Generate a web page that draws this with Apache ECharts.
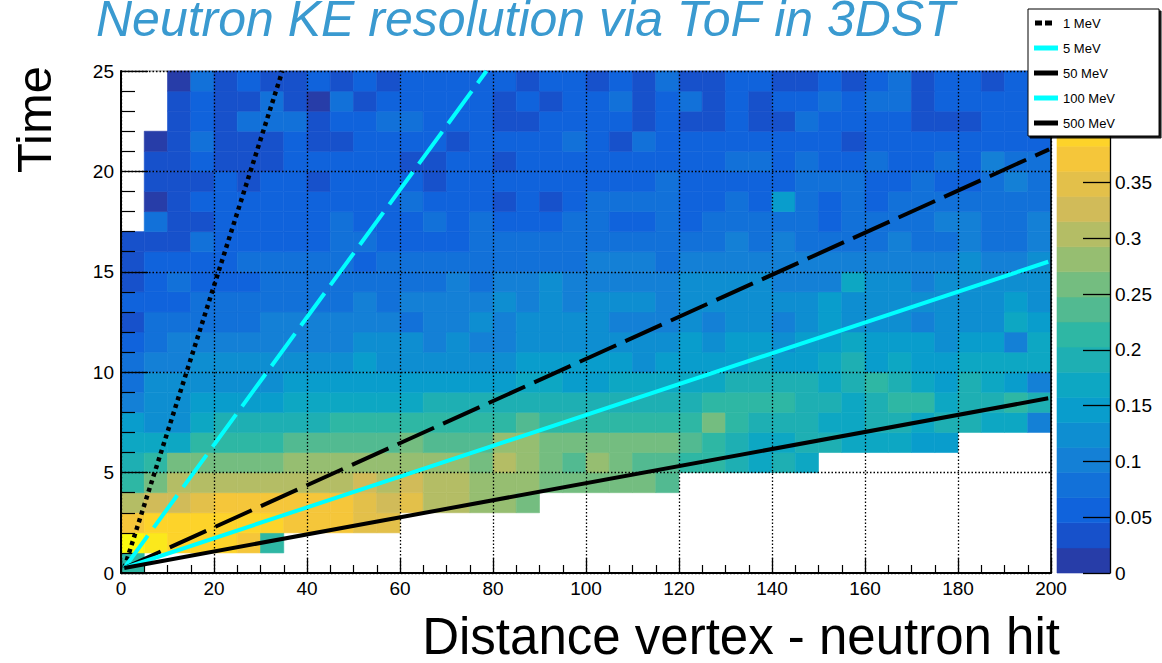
<!DOCTYPE html>
<html>
<head>
<meta charset="utf-8">
<title>Neutron KE resolution via ToF in 3DST</title>
<script src="https://cdn.jsdelivr.net/npm/echarts@6/dist/echarts.min.js"></script>
<style>
  html, body { margin: 0; padding: 0; background: #fff; }
  #chart { width: 1162px; height: 663px; }
</style>
</head>
<body>
<div id="chart"></div>
<script>
// ---- Histogram contents: fraction of hits per (distance, time) bin ----
// One array per 1-unit time bin (time bin 0 = [0,1)), 40 distance bins of width 5 each.
// 0 means an empty bin (left white).
const timeBin0 = [0.21,0,0,0,0,0,0,0,0,0, 0,0,0,0,0,0,0,0,0,0, 0,0,0,0,0,0,0,0,0,0, 0,0,0,0,0,0,0,0,0,0];
const timeBin1 = [0.44,0.42,0.39,0.39,0.39,0.37,0.21,0,0,0, 0,0,0,0,0,0,0,0,0,0, 0,0,0,0,0,0,0,0,0,0, 0,0,0,0,0,0,0,0,0,0];
const timeBin2 = [0.37,0.39,0.39,0.39,0.39,0.39,0.39,0.37,0.37,0.37, 0.35,0.35,0,0,0,0,0,0,0,0, 0,0,0,0,0,0,0,0,0,0, 0,0,0,0,0,0,0,0,0,0];
const timeBin3 = [0.30,0.33,0.33,0.35,0.37,0.37,0.37,0.37,0.37,0.37, 0.35,0.33,0.35,0.30,0.30,0.28,0.28,0.26,0,0, 0,0,0,0,0,0,0,0,0,0, 0,0,0,0,0,0,0,0,0,0];
const timeBin4 = [0.21,0.26,0.30,0.30,0.30,0.30,0.30,0.30,0.30,0.30, 0.33,0.30,0.33,0.30,0.30,0.28,0.28,0.28,0.26,0.26, 0.26,0.26,0.26,0.24,0,0,0,0,0,0, 0,0,0,0,0,0,0,0,0,0];
const timeBin5 = [0.19,0.21,0.26,0.26,0.26,0.26,0.26,0.28,0.28,0.28, 0.28,0.28,0.28,0.28,0.28,0.26,0.30,0.28,0.26,0.24, 0.28,0.26,0.24,0.24,0.21,0.21,0.19,0.17,0.19,0.17, 0,0,0,0,0,0,0,0,0,0];
const timeBin6 = [0.17,0.17,0.17,0.21,0.21,0.21,0.21,0.24,0.24,0.24, 0.24,0.24,0.26,0.24,0.24,0.24,0.28,0.28,0.26,0.26, 0.26,0.26,0.26,0.26,0.24,0.21,0.19,0.17,0.17,0.19, 0.19,0.17,0.17,0.17,0.15,0.15,0,0,0,0];
const timeBin7 = [0.15,0.12,0.12,0.17,0.19,0.19,0.19,0.19,0.19,0.21, 0.21,0.21,0.21,0.21,0.21,0.21,0.21,0.24,0.21,0.21, 0.21,0.21,0.21,0.21,0.21,0.26,0.21,0.19,0.19,0.19, 0.17,0.17,0.19,0.19,0.17,0.19,0.19,0.17,0.17,0.10];
const timeBin8 = [0.10,0.12,0.12,0.15,0.15,0.15,0.15,0.17,0.17,0.17, 0.17,0.17,0.17,0.19,0.19,0.19,0.19,0.19,0.19,0.19, 0.19,0.19,0.19,0.19,0.19,0.21,0.21,0.21,0.21,0.19, 0.19,0.17,0.19,0.21,0.21,0.17,0.19,0.19,0.21,0.19];
const timeBin9 = [0.08,0.12,0.12,0.12,0.12,0.12,0.12,0.15,0.15,0.15, 0.15,0.15,0.15,0.15,0.15,0.15,0.15,0.17,0.17,0.15, 0.15,0.17,0.17,0.17,0.17,0.17,0.19,0.19,0.19,0.19, 0.17,0.19,0.21,0.19,0.17,0.15,0.19,0.17,0.15,0.10];
const timeBin10 = [0.08,0.10,0.10,0.12,0.12,0.12,0.12,0.12,0.12,0.12, 0.15,0.12,0.12,0.12,0.12,0.12,0.12,0.15,0.15,0.15, 0.15,0.15,0.12,0.15,0.15,0.15,0.15,0.17,0.15,0.15, 0.17,0.19,0.15,0.17,0.15,0.15,0.17,0.17,0.17,0.17];
const timeBin11 = [0.06,0.08,0.10,0.10,0.10,0.10,0.10,0.10,0.10,0.10, 0.12,0.12,0.12,0.10,0.12,0.10,0.10,0.12,0.12,0.12, 0.12,0.12,0.12,0.12,0.15,0.12,0.15,0.15,0.12,0.15, 0.15,0.17,0.15,0.15,0.15,0.12,0.15,0.15,0.10,0.17];
const timeBin12 = [0.03,0.08,0.08,0.08,0.08,0.08,0.10,0.10,0.10,0.10, 0.10,0.10,0.08,0.10,0.10,0.12,0.10,0.12,0.12,0.12, 0.12,0.10,0.10,0.10,0.12,0.10,0.12,0.12,0.10,0.12, 0.15,0.12,0.12,0.12,0.10,0.12,0.12,0.12,0.17,0.15];
const timeBin13 = [0.06,0.06,0.06,0.08,0.08,0.08,0.08,0.08,0.08,0.08, 0.10,0.08,0.10,0.10,0.10,0.10,0.12,0.10,0.12,0.10, 0.12,0.12,0.12,0.10,0.12,0.12,0.12,0.12,0.12,0.12, 0.15,0.12,0.12,0.12,0.12,0.12,0.12,0.12,0.15,0.12];
const timeBin14 = [0.03,0.06,0.08,0.06,0.06,0.06,0.08,0.08,0.08,0.08, 0.08,0.08,0.08,0.08,0.10,0.08,0.10,0.10,0.12,0.10, 0.10,0.10,0.10,0.10,0.12,0.12,0.12,0.12,0.10,0.10, 0.10,0.17,0.12,0.12,0.10,0.12,0.12,0.12,0.12,0.12];
const timeBin15 = [0.03,0.06,0.06,0.06,0.06,0.08,0.08,0.08,0.08,0.08, 0.06,0.08,0.08,0.08,0.08,0.08,0.08,0.08,0.08,0.08, 0.10,0.10,0.10,0.08,0.10,0.10,0.10,0.10,0.10,0.10, 0.10,0.10,0.10,0.10,0.10,0.10,0.12,0.10,0.10,0.12];
const timeBin16 = [0.03,0.03,0.03,0.08,0.06,0.06,0.06,0.06,0.06,0.08, 0.08,0.06,0.06,0.06,0.06,0.08,0.08,0.08,0.08,0.08, 0.08,0.08,0.08,0.08,0.08,0.08,0.10,0.08,0.10,0.08, 0.08,0.08,0.08,0.10,0.08,0.08,0.10,0.08,0.08,0.10];
const timeBin17 = [0,0.08,0.03,0.03,0.06,0.06,0.06,0.06,0.06,0.08, 0.06,0.06,0.06,0.08,0.06,0.08,0.06,0.06,0.06,0.08, 0.08,0.06,0.06,0.08,0.06,0.08,0.08,0.08,0.08,0.08, 0.06,0.08,0.08,0.08,0.08,0.10,0.10,0.08,0.08,0.10];
const timeBin18 = [0,0.01,0.03,0.06,0.06,0.06,0.06,0.06,0.06,0.06, 0.06,0.06,0.08,0.06,0.06,0.06,0.03,0.06,0.03,0.06, 0.08,0.08,0.08,0.08,0.06,0.06,0.08,0.06,0.15,0.08, 0.06,0.08,0.06,0.08,0.08,0.08,0.08,0.08,0.08,0.08];
const timeBin19 = [0,0.03,0.03,0.03,0.06,0.03,0.06,0.06,0.03,0.06, 0.06,0.06,0.06,0.03,0.06,0.06,0.06,0.06,0.06,0.06, 0.06,0.06,0.06,0.08,0.06,0.06,0.06,0.06,0.06,0.08, 0.08,0.08,0.06,0.06,0.08,0.06,0.06,0.08,0.10,0.08];
const timeBin20 = [0,0.03,0.03,0.06,0.03,0.03,0.03,0.06,0.06,0.06, 0.06,0.06,0.03,0.03,0.06,0.06,0.03,0.06,0.06,0.06, 0.06,0.06,0.06,0.06,0.06,0.06,0.08,0.08,0.06,0.08, 0.06,0.06,0.08,0.06,0.06,0.08,0.06,0.10,0.08,0.08];
const timeBin21 = [0,0.01,0.03,0.08,0.03,0.03,0.03,0.06,0.03,0.03, 0.06,0.06,0.06,0.06,0.03,0.06,0.06,0.06,0.06,0.08, 0.06,0.03,0.08,0.06,0.06,0.06,0.06,0.06,0.06,0.06, 0.06,0.03,0.06,0.06,0.06,0.06,0.06,0.06,0.06,0.06];
const timeBin22 = [0,0,0.03,0.06,0.03,0.08,0.08,0.08,0.03,0.06, 0.06,0.08,0.08,0.06,0.06,0.06,0.03,0.03,0.06,0.06, 0.06,0.06,0.03,0.06,0.03,0.03,0.06,0.03,0.03,0.08, 0.06,0.06,0.06,0.06,0.03,0.03,0.03,0.06,0.06,0.06];
const timeBin23 = [0,0,0.03,0.06,0.03,0.03,0.08,0.03,0.01,0.08, 0.03,0.06,0.06,0.06,0.06,0.06,0.03,0.06,0.03,0.06, 0.06,0.08,0.03,0.06,0.08,0.03,0.06,0.03,0.06,0.06, 0.08,0.06,0.08,0.08,0.03,0.06,0.06,0.06,0.06,0.06];
const timeBin24 = [0,0,0.01,0.08,0.03,0.06,0.03,0.03,0.06,0.03, 0.06,0.03,0.06,0.06,0.06,0.06,0.06,0.03,0.06,0.06, 0.03,0.06,0.03,0.08,0.03,0.03,0.06,0.06,0.03,0.03, 0.06,0.03,0.06,0.08,0.03,0.06,0.06,0.03,0.06,0.06];

const distanceBinWidth = 5;   // distance units per bin
const timeBinWidth = 1;       // time units per bin

// ---- Time-of-flight reference lines for fixed neutron kinetic energies ----
const energyLabels = ['1 MeV', '5 MeV', '50 MeV', '100 MeV', '500 MeV'];
const lineStartDistance = [0.7, 0.7, 0.7, 0.7, 0.7];
const lineStartTime = [0.25, 0.25, 0.25, 0.25, 0.25];
const lineEndDistance = [34.7, 78.6, 199.6, 199.4, 199.4];
const lineEndTime = [25, 25, 21.1, 15.5, 8.7];

// ---- Colour scale ----
const zMax = 0.45;
const nContours = 20;

// ROOT "kBird" gradient
const birdStops = [0.0, 0.125, 0.25, 0.375, 0.5, 0.625, 0.75, 0.875, 1.0];
const birdR = [0.2082, 0.0592, 0.0780, 0.0232, 0.1802, 0.5301, 0.8186, 0.9956, 0.9764];
const birdG = [0.1664, 0.3599, 0.5041, 0.6419, 0.7178, 0.7492, 0.7328, 0.7862, 0.9832];
const birdB = [0.5293, 0.8684, 0.8385, 0.7914, 0.6425, 0.4662, 0.3499, 0.1968, 0.0539];

function birdColor(t) {
  let k = 0;
  while (k < birdStops.length - 2 && t > birdStops[k + 1]) k++;
  const f = (t - birdStops[k]) / (birdStops[k + 1] - birdStops[k]);
  const c = arr => Math.round(255 * (arr[k] + (arr[k + 1] - arr[k]) * f));
  return 'rgb(' + c(birdR) + ',' + c(birdG) + ',' + c(birdB) + ')';
}

// one flat colour per contour band, picked from a 255-colour table the way ROOT does
const bandColors = [];
for (let i = 0; i < nContours; i++) {
  const idx = Math.floor((i + 0.99) * 255 / nContours);
  bandColors.push(birdColor(Math.min(1, idx / 254)));
}
function colorFor(v) {
  const i = Math.min(nContours - 1, Math.floor(0.01 + v / zMax * nContours));
  return bandColors[i];
}

// ---- Build the cell list for the custom heat-map series ----
const timeBins = [timeBin0, timeBin1, timeBin2, timeBin3, timeBin4, timeBin5, timeBin6, timeBin7,
  timeBin8, timeBin9, timeBin10, timeBin11, timeBin12, timeBin13, timeBin14, timeBin15, timeBin16,
  timeBin17, timeBin18, timeBin19, timeBin20, timeBin21, timeBin22, timeBin23, timeBin24];
const cells = [];
timeBins.forEach((row, j) => {
  row.forEach((v, i) => {
    if (v > 0) cells.push([i * distanceBinWidth, j * timeBinWidth, v]);
  });
});
const bandData = bandColors.map((c, i) => [i]);

const FONT = '"Liberation Sans", Helvetica, Arial, sans-serif';
const dotted = [1.5, 2];

const lineStyles = [
  { color: '#000000', width: 4.5, type: [4, 4] },
  { color: '#00ffff', width: 4, type: [40, 10] },
  { color: '#000000', width: 4, type: [40, 10] },
  { color: '#00ffff', width: 4, type: 'solid' },
  { color: '#000000', width: 4, type: 'solid' }
];

// legend keys: a short thick stroke (two dashes for the dotted curve);
// the leading moves pin the icon box so the stroke keeps its thickness
const legendIcons = [
  'path://M0,0M24,14M1,4.5h7v5h-7zM11,4.5h7v5h-7z',
  'path://M0,0M24,14M0,4.5h24v5h-24z',
  'path://M0,0M24,14M0,4.5h24v5h-24z',
  'path://M0,0M24,14M0,4.5h24v5h-24z',
  'path://M0,0M24,14M0,4.5h24v5h-24z'
];

const lineSeries = energyLabels.map((name, k) => ({
  name: name,
  type: 'line',
  xAxisIndex: 0,
  yAxisIndex: 0,
  data: [[lineStartDistance[k], lineStartTime[k]], [lineEndDistance[k], lineEndTime[k]]],
  symbol: 'none',
  showSymbol: false,
  silent: true,
  z: 8,
  color: lineStyles[k].color,
  itemStyle: { color: lineStyles[k].color },
  lineStyle: Object.assign({ cap: 'butt' }, lineStyles[k])
}));

const chart = echarts.init(document.getElementById('chart'), null, { renderer: 'svg' });

chart.setOption({
  animation: false,
  backgroundColor: '#ffffff',
  textStyle: { fontFamily: FONT },
  grid: [
    { left: 121, right: 111, top: 71, bottom: 90, show: true, borderColor: '#9a9a9a', borderWidth: 1, backgroundColor: 'transparent' },
    { left: 1057, width: 53, top: 71, bottom: 90 }
  ],
  xAxis: [
    {
      gridIndex: 0, type: 'value', min: 0, max: 200, interval: 20, z: 4,
      axisLine: { show: true, onZero: false, lineStyle: { color: '#000', width: 2 } },
      axisTick: { show: true, inside: true, length: 15, lineStyle: { color: '#000', width: 1.3 } },
      minorTick: { show: true, splitNumber: 4, length: 8, lineStyle: { color: '#000', width: 1.2 } },
      axisLabel: { color: '#000', fontSize: 19, margin: 6, fontFamily: FONT },
      splitLine: { show: true, lineStyle: { color: '#000', width: 1.3, type: dotted } }
    },
    { gridIndex: 1, type: 'value', min: 0, max: 1, show: false }
  ],
  yAxis: [
    {
      gridIndex: 0, type: 'value', min: 0, max: 25, interval: 5, z: 4,
      axisLine: { show: true, onZero: false, lineStyle: { color: '#000', width: 2 } },
      axisTick: { show: true, inside: true, length: 27, lineStyle: { color: '#000', width: 1.3 } },
      minorTick: { show: true, splitNumber: 5, length: 14, lineStyle: { color: '#000', width: 1.2 } },
      axisLabel: { color: '#000', fontSize: 19, margin: 7, fontFamily: FONT },
      splitLine: { show: true, lineStyle: { color: '#000', width: 1.3, type: dotted } }
    },
    {
      gridIndex: 0, type: 'value', min: 0, max: 25, position: 'right', z: 4,
      axisLine: { show: true, onZero: false, lineStyle: { color: '#000', width: 1.6 } },
      axisTick: { show: false }, axisLabel: { show: false }, splitLine: { show: false }
    },
    {
      gridIndex: 1, type: 'value', min: 0, max: zMax, interval: 0.05, position: 'right', z: 4,
      axisLine: { show: true, onZero: false, lineStyle: { color: '#000', width: 1.3 } },
      axisTick: { show: true, inside: true, length: 27, lineStyle: { color: '#000', width: 1.3 } },
      axisLabel: {
        color: '#000', fontSize: 19, margin: 5, fontFamily: FONT,
        formatter: v => (v > 0.36 ? '' : String(Math.round(v * 100) / 100))
      },
      splitLine: { show: false }
    }
  ],
  legend: {
    data: energyLabels.map((name, k) => ({
      name: name,
      icon: legendIcons[k],
      itemStyle: { color: lineStyles[k].color, borderWidth: 0 }
    })),
    orient: 'vertical',
    left: 1028,
    top: 9,
    itemWidth: 24,
    itemHeight: 14,
    itemGap: 11,
    padding: [7, 44, 6, 6],
    backgroundColor: '#ffffff',
    borderColor: '#000000',
    borderWidth: 1,
    shadowColor: 'rgba(0,0,0,0.9)',
    shadowOffsetX: 2,
    shadowOffsetY: 2,
    shadowBlur: 0,
    selectedMode: false,
    z: 20,
    textStyle: { color: '#000', fontSize: 13, fontFamily: FONT }
  },
  graphic: [
    {
      type: 'text', x: 96, y: 19, z: 30,
      style: {
        text: 'Neutron KE resolution via ToF in 3DST',
        font: 'italic 50px ' + FONT,
        fill: '#3a9ad0',
        textAlign: 'left', textVerticalAlign: 'middle', verticalAlign: 'middle'
      }
    },
    {
      type: 'text', x: 34, y: 173, rotation: Math.PI / 2, z: 30,
      style: {
        text: 'Time',
        font: '49px ' + FONT,
        fill: '#000',
        textAlign: 'left', textVerticalAlign: 'middle', verticalAlign: 'middle'
      }
    },
    {
      type: 'text', x: 1060, y: 636, z: 30,
      style: {
        text: 'Distance vertex - neutron hit',
        font: '51px ' + FONT,
        fill: '#000',
        textAlign: 'right', textVerticalAlign: 'middle', verticalAlign: 'middle'
      }
    }
  ],
  series: [
    {
      name: 'occupancy',
      type: 'custom',
      xAxisIndex: 0,
      yAxisIndex: 0,
      z: 1,
      silent: true,
      data: cells,
      renderItem: function (params, api) {
        const x0 = api.value(0), y0 = api.value(1), v = api.value(2);
        const a = api.coord([x0, y0 + timeBinWidth]);
        const b = api.coord([x0 + distanceBinWidth, y0]);
        const col = colorFor(v);
        return {
          type: 'rect',
          shape: { x: a[0], y: a[1], width: b[0] - a[0], height: b[1] - a[1] },
          style: { fill: col, stroke: col, lineWidth: 0.6 }
        };
      }
    },
    {
      name: 'palette',
      type: 'custom',
      xAxisIndex: 1,
      yAxisIndex: 2,
      z: 1,
      silent: true,
      data: bandData,
      renderItem: function (params, api) {
        const i = api.value(0);
        const lo = i * zMax / nContours, hi = (i + 1) * zMax / nContours;
        const a = api.coord([0, hi]);
        const b = api.coord([1, lo]);
        return {
          type: 'rect',
          shape: { x: a[0], y: a[1], width: b[0] - a[0], height: b[1] - a[1] },
          style: { fill: bandColors[i], stroke: bandColors[i], lineWidth: 0.6 }
        };
      }
    }
  ].concat(lineSeries)
});
</script>
</body>
</html>
